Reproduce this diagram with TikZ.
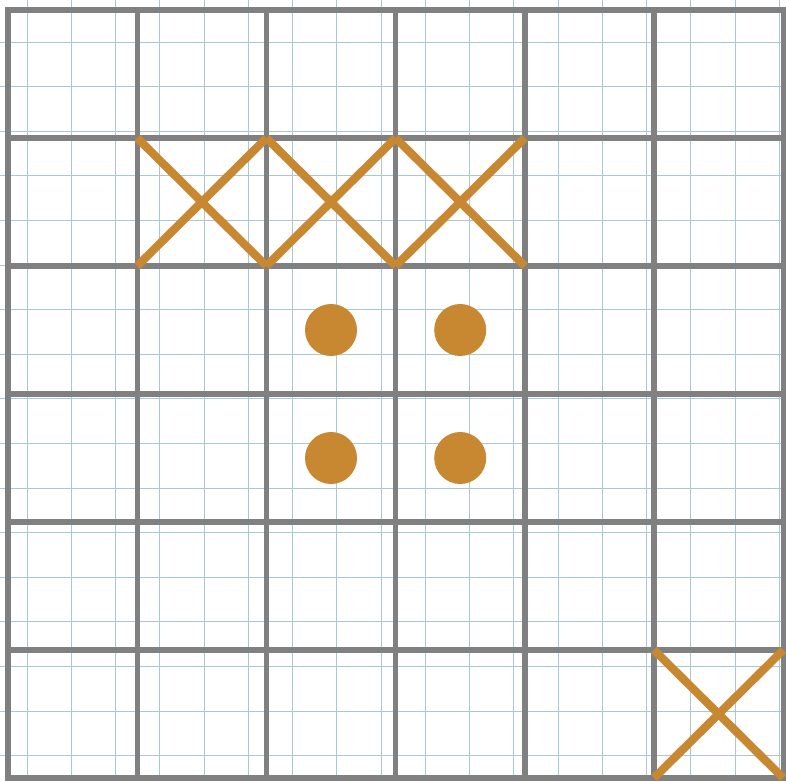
\documentclass[tikz,border=0pt]{standalone}
\usepackage{xcolor}
\usepackage{tikz}
\definecolor{paperblue}{RGB}{170,200,212}
\definecolor{gridgray}{RGB}{128,128,128}
\definecolor{stitch}{RGB}{200,136,50}

\begin{document}
\begin{tikzpicture}[x=0.03cm, y=-0.03cm,
      fine/.style={draw=paperblue, line width=0.8pt},
      thickline/.style={draw=gridgray, line width=4.6pt, line cap=rect},
      crossst/.style={draw=stitch, line width=7pt},
      knot/.style={fill=stitch}]
    \useasboundingbox (0,0) rectangle (786,781);
    \fill[white] (0,0) rectangle (786,781);
    % graph paper
    \foreach \k in {0,...,17}
      \draw[fine] ({27+44.25*\k},0) -- ({27+44.25*\k},781);
    \foreach \k in {-1,...,17}
      \draw[fine] (0,{42+44.6*\k}) -- (786,{42+44.6*\k});
    % 6x6 grid
    \foreach \i in {0,...,6} {
      \draw[thickline] ({8+129.2*\i},10) -- ({8+129.2*\i},778);
      \draw[thickline] (8,{10+128*\i}) -- (783.2,{10+128*\i});
    }
    % cross stitches
    \foreach \c/\r in {1/1,2/1,3/1,5/5} {
      \draw[crossst] ({8+129.2*\c},{10+128*\r}) -- ({8+129.2*(\c+1)},{10+128*(\r+1)});
      \draw[crossst] ({8+129.2*\c},{10+128*(\r+1)}) -- ({8+129.2*(\c+1)},{10+128*\r});
    }
    % french knots
    \foreach \c/\r in {2/2,3/2,2/3,3/3}
      \fill[knot] ({8+129.2*(\c+0.5)},{10+128*(\r+0.5)}) circle[radius=26];
  \end{tikzpicture}
\end{document}
